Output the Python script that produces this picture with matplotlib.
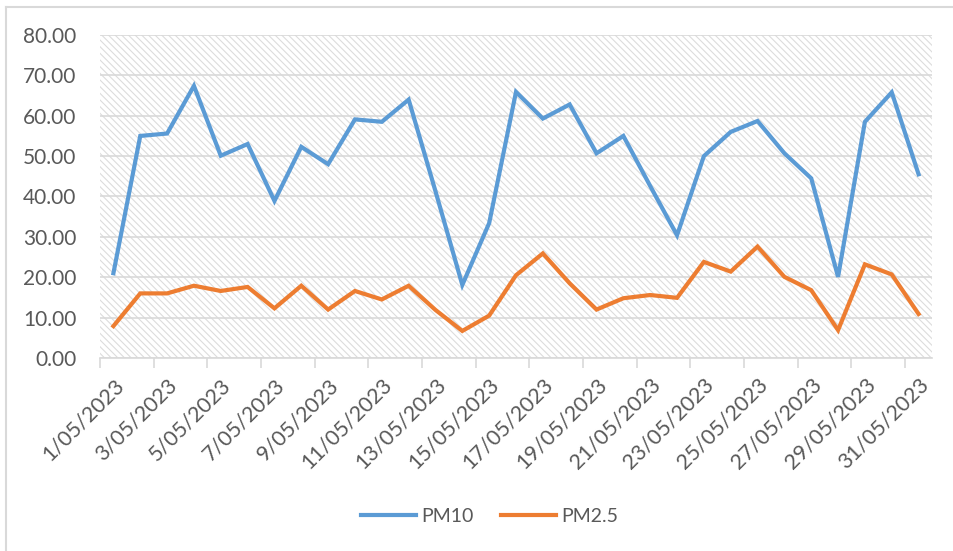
import matplotlib
matplotlib.use("Agg")
import matplotlib.pyplot as plt
from matplotlib.lines import Line2D
from matplotlib.patches import Rectangle

dates = [f"{d}/05/2023" for d in range(1, 32)]
pm10 = [21.0, 55.0, 55.6, 67.4, 50.1, 53.0, 38.9, 52.3, 48.0, 59.1, 58.5, 64.0,
        41.3, 18.1, 33.4, 65.9, 59.3, 62.8, 50.7, 55.0, 42.6, 30.4, 50.0, 56.0,
        58.7, 50.7, 44.5, 20.1, 58.5, 65.8, 45.5]
pm25 = [7.9, 16.0, 16.0, 17.9, 16.6, 17.6, 12.3, 17.9, 12.0, 16.6, 14.5, 17.9,
        11.9, 6.7, 10.5, 20.5, 25.9, 18.5, 12.0, 14.8, 15.6, 14.9, 23.8, 21.4,
        27.6, 20.1, 16.8, 6.9, 23.2, 20.7, 10.9]
series_names = ["PM10", "PM2.5"]
y_ticks = [0, 10, 20, 30, 40, 50, 60, 70, 80]

plt.rcParams['font.family'] = ['Lato', 'DejaVu Sans']
plt.rcParams['hatch.linewidth'] = 0.8
plt.rcParams['hatch.color'] = '#DCDCDC'

W, H = 954, 551
fig = plt.figure(figsize=(W / 100, H / 100), dpi=100)
ax = fig.add_axes([100 / W, 1 - 358 / H, (932 - 100) / W, (358 - 35) / H])

# hatched plot-area background
ax.add_patch(Rectangle((0, 0), 1, 1, transform=ax.transAxes, facecolor='white',
                       edgecolor='#DCDCDC', hatch='\\\\\\\\\\', linewidth=0, zorder=0))

x = list(range(len(dates)))
ax.plot(x, pm10, color='#5B9BD5', lw=3.0, solid_joinstyle='miter', label=series_names[0], zorder=3)
ax.plot(x, pm25, color='#ED7D31', lw=3.0, solid_joinstyle='miter', label=series_names[1], zorder=3)

ax.set_xlim(-0.5, len(dates) - 0.5)
ax.set_ylim(0, 80)
ax.set_yticks(y_ticks)
ax.set_yticklabels([f"{v:.2f}" for v in y_ticks])
ax.yaxis.grid(True, color='#D9D9D9', lw=1.2, zorder=1)
ax.set_axisbelow(True)
ax.tick_params(axis='y', length=0, pad=17, labelsize=15, labelcolor='#595959')

# minor ticks at category boundaries, labels at centers
ax.set_xticks([i - 0.5 for i in range(0, len(dates), 2)], minor=True)
ax.set_xticks(list(range(0, len(dates), 2)))
ax.set_xticklabels(dates[::2], rotation=45, ha='right', va='top', rotation_mode='anchor')
ax.tick_params(axis='x', which='major', length=0, pad=12, labelsize=15.5, labelcolor='#595959')
ax.tick_params(axis='x', which='minor', length=7, width=1.2, color='#D9D9D9', direction='out')

for s in ['left', 'right', 'top']:
    ax.spines[s].set_visible(False)
ax.spines['bottom'].set_color('#D9D9D9')
ax.spines['bottom'].set_linewidth(1.2)

leg = fig.legend(loc='center', bbox_to_anchor=(490 / W, 1 - 516 / H), ncol=2, frameon=False,
                 fontsize=14, handlelength=2.8, handletextpad=0.3, columnspacing=1.4,
                 labelcolor='#595959')

# chart border (left and top visible)
fig.add_artist(Line2D([6.5 / W, 6.5 / W], [0, 1 - 6.5 / H], transform=fig.transFigure,
                      color='#D9D9D9', lw=1.5))
fig.add_artist(Line2D([6.5 / W, 1], [1 - 6.5 / H, 1 - 6.5 / H], transform=fig.transFigure,
                      color='#D9D9D9', lw=1.5))

fig.savefig('out.png', dpi=100)
